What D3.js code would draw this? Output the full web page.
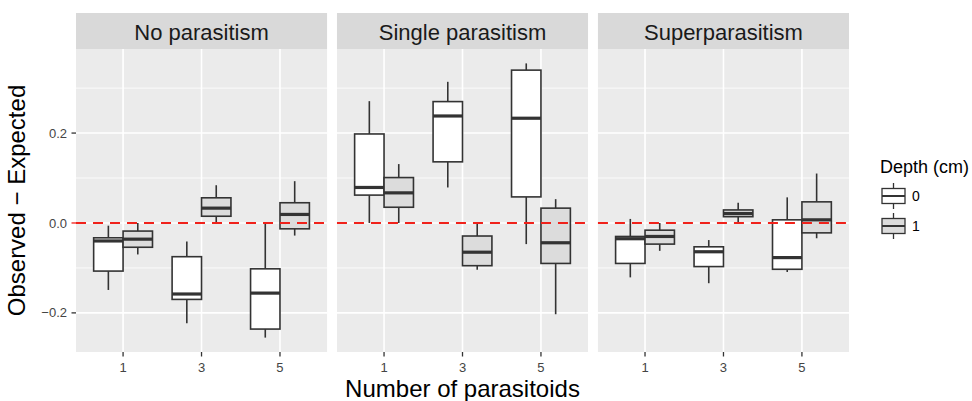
<!DOCTYPE html>
<html>
<head>
<meta charset="utf-8">
<script src="https://cdn.jsdelivr.net/npm/d3@7"></script>
<style>
  body { margin: 0; background: #fff; }
  text { font-family: "Liberation Sans", Arial, sans-serif; }
</style>
</head>
<body>
<div id="chart"></div>
<script>
const facets = ["No parasitism", "Single parasitism", "Superparasitism"];
const parasitoids = ["1", "3", "5"];
const depths = ["0", "1"];
const yTicks = [-0.2, 0, 0.2];
const yMinor = [-0.1, 0.1, 0.3];

// one entry per box, order: facet -> parasitoids -> depth
const whiskerLow  = [-0.149, -0.070, -0.223, 0.000, -0.255, -0.028,
                      0.000,  0.000,  0.079, -0.104, -0.047, -0.203,
                     -0.121, -0.062, -0.134, 0.000, -0.109, -0.034];
const q1          = [-0.107, -0.054, -0.170, 0.015, -0.236, -0.013,
                      0.062,  0.035,  0.136, -0.095,  0.058, -0.090,
                     -0.090, -0.047, -0.097, 0.014, -0.103, -0.022];
const median      = [-0.040, -0.036, -0.158, 0.033, -0.156,  0.019,
                      0.079,  0.067,  0.238, -0.065,  0.233, -0.044,
                     -0.035, -0.030, -0.064, 0.021, -0.077,  0.007];
const q3          = [-0.033, -0.018, -0.075, 0.056, -0.102,  0.045,
                      0.198,  0.101,  0.270, -0.029,  0.340,  0.033,
                     -0.030, -0.016, -0.053, 0.029,  0.007,  0.047];
const whiskerHigh = [-0.006,  0.000, -0.041, 0.084,  0.000,  0.093,
                      0.271,  0.131,  0.314,  0.000,  0.355,  0.053,
                      0.009,  0.000, -0.038, 0.045,  0.057,  0.110];

const boxes = [];
facets.forEach((f, fi) => parasitoids.forEach((p, pi) => depths.forEach((d, di) => {
  const i = fi * 6 + pi * 2 + di;
  boxes.push({facet: f, n: p, depth: d,
    lo: whiskerLow[i], q1: q1[i], med: median[i], q3: q3[i], hi: whiskerHigh[i]});
})));

const W = 972, H = 401;
const panelTop = 49, panelBottom = 352, stripTop = 13;

const svg = d3.select("#chart").append("svg")
  .attr("width", W)
  .attr("height", H);

const fx = d3.scaleBand().domain(facets).range([76, 849]).paddingInner(0.038);
const y = d3.scaleLinear().domain([-0.287, 0.387]).range([panelBottom, panelTop]);
const fill = d3.scaleOrdinal().domain(depths).range(["#ffffff", "#dcdcdc"]);

facets.forEach(f => {
  const x0 = fx(f), w = fx.bandwidth();
  const x = d3.scalePoint().domain(parasitoids).range([x0, x0 + w]).padding(0.6);
  const dodge = d3.scaleBand().domain(depths).range([-0.375 * x.step(), 0.375 * x.step()]);
  const g = svg.append("g");

  // strip
  g.append("rect").attr("x", x0).attr("y", stripTop).attr("width", w).attr("height", panelTop - stripTop)
    .attr("fill", "#d9d9d9");
  g.append("text").attr("x", x0 + w / 2).attr("y", 39.5).attr("text-anchor", "middle")
    .style("font-size", "22px").attr("fill", "#1a1a1a").text(f);

  // panel
  g.append("rect").attr("x", x0).attr("y", panelTop).attr("width", w).attr("height", panelBottom - panelTop)
    .attr("fill", "#ebebeb");
  g.selectAll(".minor").data(yMinor).join("line")
    .attr("x1", x0).attr("x2", x0 + w).attr("y1", d => y(d)).attr("y2", d => y(d))
    .attr("stroke", "#fff").attr("stroke-width", 0.8);
  g.selectAll(".major").data(yTicks).join("line")
    .attr("x1", x0).attr("x2", x0 + w).attr("y1", d => y(d)).attr("y2", d => y(d))
    .attr("stroke", "#fff").attr("stroke-width", 1.6);
  g.selectAll(".vgrid").data(parasitoids).join("line")
    .attr("x1", d => x(d)).attr("x2", d => x(d)).attr("y1", panelTop).attr("y2", panelBottom)
    .attr("stroke", "#fff").attr("stroke-width", 1.6);

  // x ticks
  g.selectAll(".xt").data(parasitoids).join("line")
    .attr("x1", d => x(d)).attr("x2", d => x(d)).attr("y1", panelBottom).attr("y2", panelBottom + 4.5)
    .attr("stroke", "#333").attr("stroke-width", 1.3);
  g.selectAll(".xl").data(parasitoids).join("text")
    .attr("x", d => x(d)).attr("y", 371.5).attr("text-anchor", "middle")
    .style("font-size", "13px").attr("fill", "#444").text(d => d);

  // boxes
  const data = boxes.filter(b => b.facet === f);
  const bw = dodge.bandwidth();
  const bx = b => x(b.n) + dodge(b.depth);
  const bg = g.selectAll(".box").data(data).join("g");
  bg.append("line")
    .attr("x1", b => bx(b) + bw / 2).attr("x2", b => bx(b) + bw / 2)
    .attr("y1", b => y(b.hi)).attr("y2", b => y(b.q3))
    .attr("stroke", "#333").attr("stroke-width", 1.6);
  bg.append("line")
    .attr("x1", b => bx(b) + bw / 2).attr("x2", b => bx(b) + bw / 2)
    .attr("y1", b => y(b.q1)).attr("y2", b => y(b.lo))
    .attr("stroke", "#333").attr("stroke-width", 1.6);
  bg.append("rect")
    .attr("x", b => bx(b)).attr("width", bw)
    .attr("y", b => y(b.q3)).attr("height", b => y(b.q1) - y(b.q3))
    .attr("fill", b => fill(b.depth)).attr("stroke", "#333").attr("stroke-width", 1.6);
  bg.append("line")
    .attr("x1", b => bx(b)).attr("x2", b => bx(b) + bw)
    .attr("y1", b => y(b.med)).attr("y2", b => y(b.med))
    .attr("stroke", "#333").attr("stroke-width", 3.2);

  // reference line
  g.append("line")
    .attr("x1", x0).attr("x2", x0 + w).attr("y1", y(0)).attr("y2", y(0))
    .attr("stroke", "#f0221b").attr("stroke-width", 2).attr("stroke-dasharray", "10,7");
});

// y axis
const left = fx(facets[0]);
svg.selectAll(".yt").data(yTicks).join("line")
  .attr("x1", left - 4.5).attr("x2", left).attr("y1", d => y(d)).attr("y2", d => y(d))
  .attr("stroke", d => d === 0 ? "#f0221b" : "#333").attr("stroke-width", 1.3);
svg.selectAll(".yl").data(yTicks).join("text")
  .attr("x", left - 9).attr("y", d => y(d)).attr("dy", "0.35em").attr("text-anchor", "end")
  .style("font-size", "13px").attr("fill", "#444")
  .text(d => d3.format(".1f")(d).replace("-", "\u2212"));

svg.append("text")
  .attr("transform", `translate(25,${(panelTop + panelBottom) / 2}) rotate(-90)`)
  .attr("text-anchor", "middle").style("font-size", "24px").attr("fill", "#000")
  .text("Observed \u2212 Expected");

svg.append("text")
  .attr("x", (fx(facets[0]) + fx(facets[2]) + fx.bandwidth()) / 2).attr("y", 397)
  .attr("text-anchor", "middle").style("font-size", "24px").attr("fill", "#000")
  .text("Number of parasitoids");

// legend
const lg = svg.append("g").attr("transform", "translate(880,0)");
lg.append("text").attr("x", 0).attr("y", 173).style("font-size", "18px").attr("fill", "#000")
  .text("Depth (cm)");
const key = lg.selectAll(".key").data(depths).join("g")
  .attr("transform", (d, i) => `translate(2,${196 + i * 30})`);
key.append("line").attr("x1", 11.5).attr("x2", 11.5).attr("y1", -13).attr("y2", 13)
  .attr("stroke", "#333").attr("stroke-width", 1.3);
key.append("rect").attr("x", 0).attr("y", -7.5).attr("width", 23).attr("height", 15)
  .attr("fill", d => fill(d)).attr("stroke", "#333").attr("stroke-width", 1.3);
key.append("line").attr("x1", 0).attr("x2", 23).attr("y1", 0).attr("y2", 0)
  .attr("stroke", "#333").attr("stroke-width", 2);
key.append("text").attr("x", 30).attr("y", 0).attr("dy", "0.35em")
  .style("font-size", "14px").attr("fill", "#000").text(d => d);
</script>
</body>
</html>
